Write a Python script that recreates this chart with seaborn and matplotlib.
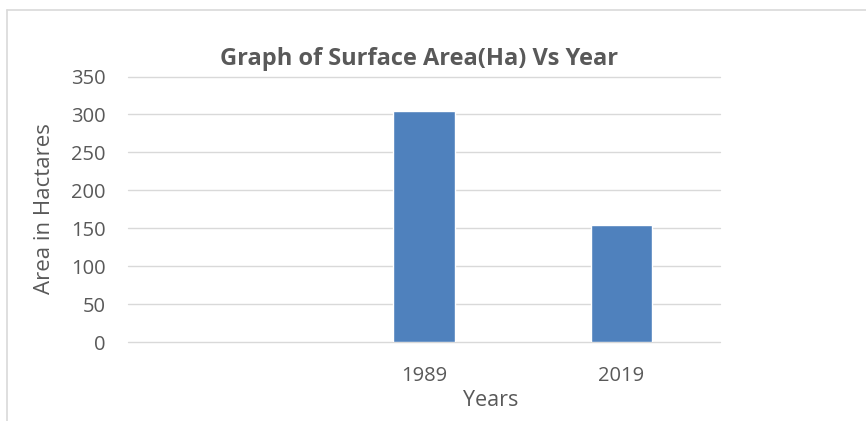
import matplotlib
matplotlib.use("Agg")
import matplotlib.pyplot as plt
from matplotlib.lines import Line2D
import seaborn as sns
import pandas as pd

# Chart data
categories = ["", "1989", "2019"]
years = ["1989", "2019"]
area_ha = [304, 154]

df = pd.DataFrame({"Year": years, "Area": area_ha})

sns.set_theme(style="white")
plt.rcParams["font.family"] = ["Open Sans", "DejaVu Sans"]

W, H = 866, 421
fig = plt.figure(figsize=(W / 100, H / 100), dpi=100)
fig.patch.set_facecolor("white")

ax = fig.add_axes([128 / W, 1 - 342 / H, (720 - 128) / W, (342 - 76.5) / H])

sns.barplot(data=df, x="Year", y="Area", order=categories, color="#4F81BD",
            width=0.31, saturation=1, errorbar=None, ax=ax, zorder=3)

ax.set_ylim(0, 350)
ax.set_yticks(range(0, 351, 50))
ax.set_xlim(-0.5, 2.5)
ax.set_xlabel("")
ax.set_ylabel("")

ax.yaxis.grid(True, color="#D9D9D9", linewidth=1.0)
for gl in ax.get_ygridlines():
    gl.set_clip_on(False)
ax.set_axisbelow(True)

for side in ["top", "right", "bottom", "left"]:
    ax.spines[side].set_visible(False)

text_color = "#595959"
ax.tick_params(axis="y", length=0, pad=16, labelsize=14.5, labelcolor=text_color)
ax.tick_params(axis="x", length=0, pad=17, labelsize=14.5, labelcolor=text_color)

fig.text(419 / W, 1 - 59 / H, "Graph of Surface Area(Ha) Vs Year",
         ha="center", va="center", fontsize=17, fontweight="bold", color=text_color)
fig.text(45 / W, 1 - 209 / H, "Area in Hactares", rotation=90,
         ha="center", va="center", fontsize=16, color=text_color)
fig.text(491 / W, 1 - 400 / H, "Years",
         ha="center", va="center", fontsize=15.5, color=text_color)

# Outer chart frame (top and left edges)
frame_color = "#D9D9D9"
fig.add_artist(Line2D([7 / W, 1], [1 - 10 / H, 1 - 10 / H], color=frame_color, linewidth=1.2))
fig.add_artist(Line2D([7 / W, 7 / W], [0, 1 - 10 / H], color=frame_color, linewidth=1.2))

fig.savefig("out.png", dpi=100, facecolor="white")
